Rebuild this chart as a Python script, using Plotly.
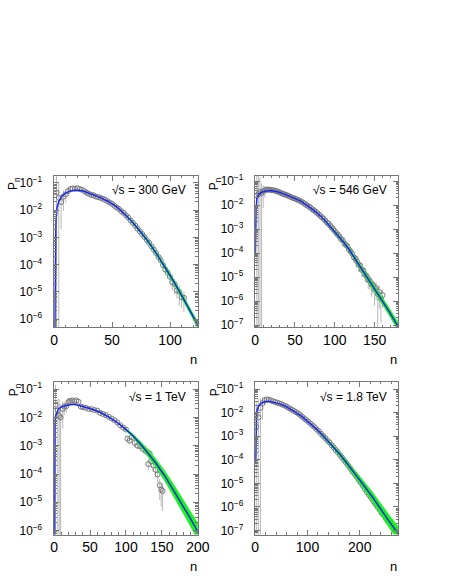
import plotly.graph_objects as go

# multiplicity distributions P_n, values read as log10(P_n)

# ---- sqrt(s) = 300 GeV ----
n_300 = [2, 4, 6, 8, 10, 12, 14, 16, 18, 20, 22, 24, 26, 28, 30, 32, 34, 36, 38, 40,
         42, 44, 46, 48, 50, 52, 54, 56, 58, 60, 62, 64, 66, 68, 70, 72, 74, 76, 78, 80,
         82, 84, 86, 88, 90, 92, 94, 96, 98, 100, 102, 104, 106, 108, 110, 112]
logp_300 = [-1.35, -1.55, -1.70, -1.50, -1.42, -1.30, -1.22, -1.20, -1.21, -1.19,
            -1.22, -1.25, -1.30, -1.36, -1.40, -1.44, -1.45, -1.50, -1.52, -1.55,
            -1.58, -1.62, -1.67, -1.72, -1.77, -1.84, -1.90, -1.96, -2.04, -2.10,
            -2.19, -2.27, -2.38, -2.47, -2.57, -2.68, -2.78, -2.88, -2.99, -3.10,
            -3.20, -3.33, -3.45, -3.58, -3.72, -3.84, -4.02, -4.18, -4.30, -4.45,
            -4.66, -4.72, -4.95, -5.00, -5.20, -5.22]
relerr_300 = [5, 2.5, 0.9, 0.7, 0.5, 0.35, 0.25, 0.2, 0.15, 0.12,
              0.1, 0.08, 0.08, 0.08, 0.08, 0.08, 0.08, 0.08, 0.08, 0.08,
              0.08, 0.08, 0.08, 0.08, 0.08, 0.08, 0.08, 0.08, 0.08, 0.08,
              0.08, 0.08, 0.08, 0.08, 0.08, 0.08, 0.08, 0.08, 0.08, 0.08,
              0.1, 0.15, 0.15, 0.15, 0.2, 0.25, 0.25, 0.3, 0.3, 0.4,
              0.5, 0.6, 0.5, 0.7, 0.6, 0.7]
fit_n_300 = [0.5, 1.0, 1.5, 2.5, 4, 6, 9, 13, 17, 21, 25, 30, 35, 40, 47, 54, 61, 68,
             75, 82, 89, 96, 103, 110, 117, 125]
fit_log_300 = [-7.0, -3.5, -2.5, -1.9, -1.68, -1.52, -1.40, -1.31, -1.275, -1.27, -1.30,
               -1.38, -1.45, -1.54, -1.69, -1.88, -2.15, -2.46, -2.82, -3.2, -3.64,
               -4.11, -4.61, -5.13, -5.67, -6.3]
band_300 = [0, 0, 0, 0, 0, 0, 0, 0, 0, 0, 0, 0, 0, 0, 0, 0, 0.03, 0.04, 0.05, 0.06,
            0.07, 0.08, 0.09, 0.1, 0.11, 0.12]

# ---- sqrt(s) = 546 GeV ----
n_546 = list(range(2, 162, 2))
logp_546 = [-1.60, -1.55, -1.45, -1.50, -1.42, -1.38, -1.36, -1.35, -1.36, -1.37,
            -1.38, -1.39, -1.41, -1.43, -1.46, -1.49, -1.52, -1.54, -1.57, -1.59,
            -1.62, -1.65, -1.68, -1.71, -1.73, -1.76, -1.79, -1.82, -1.86, -1.89,
            -1.94, -1.99, -2.03, -2.07, -2.12, -2.18, -2.22, -2.28, -2.33, -2.39,
            -2.46, -2.51, -2.57, -2.64, -2.72, -2.77, -2.85, -2.93, -3.00, -3.08,
            -3.17, -3.24, -3.31, -3.42, -3.46, -3.60, -3.66, -3.72, -3.86, -3.93,
            -4.03, -4.18, -4.22, -4.35, -4.49, -4.52, -4.70, -4.73, -4.90, -4.95,
            -5.10, -5.15, -5.30, -5.32, -5.50, -5.45, -5.70, -5.62, -5.90, -5.75]
relerr_546 = [8, 6, 3, 1.5, 0.8, 0.5, 0.3, 0.2, 0.2, 0.2,
              0.1, 0.1, 0.1, 0.1, 0.1, 0.06, 0.06, 0.06, 0.06, 0.06,
              0.06, 0.06, 0.06, 0.06, 0.06, 0.06, 0.06, 0.06, 0.06, 0.06,
              0.06, 0.06, 0.06, 0.06, 0.06, 0.06, 0.06, 0.06, 0.06, 0.06,
              0.06, 0.06, 0.06, 0.06, 0.06, 0.06, 0.06, 0.06, 0.06, 0.06,
              0.15, 0.2, 0.15, 0.3, 0.2, 0.3, 0.2, 0.3, 0.3, 0.3,
              0.3, 0.4, 0.35, 0.4, 0.5, 0.4, 0.5, 0.45, 0.5, 0.5,
              0.6, 0.6, 0.7, 0.6, 0.8, 0.7, 0.98, 0.8, 0.9, 0.7]
fit_n_546 = [0, 0.5, 1, 2, 4, 8, 13, 20, 28, 36, 46, 56, 66, 76, 86, 97, 107, 117, 127,
             137, 147, 157, 168, 180]
fit_log_546 = [-4.0, -2.8, -2.2, -1.74, -1.57, -1.46, -1.41, -1.39, -1.44, -1.53, -1.66,
               -1.81, -2.03, -2.28, -2.58, -2.98, -3.38, -3.80, -4.31, -4.82, -5.31,
               -5.82, -6.42, -7.08]
band_546 = [0, 0, 0, 0, 0, 0, 0, 0, 0, 0, 0, 0, 0, 0, 0.03, 0.04, 0.05, 0.06, 0.08,
            0.1, 0.12, 0.14, 0.16, 0.18]

# ---- sqrt(s) = 1 TeV ----
n_1000 = [2, 5, 7, 9, 12, 14, 17, 20, 22, 25, 28, 31, 34, 37, 40, 44, 48, 52, 56, 60,
          64, 68, 72, 76, 80, 84, 88, 92, 96, 100, 102, 105, 108, 112, 116, 120, 124,
          128, 131, 133, 135, 138, 141, 144, 147, 149, 151]
logp_1000 = [-1.55, -1.75, -1.95, -2.0, -1.7, -1.62, -1.6, -1.45, -1.42, -1.4,
             -1.42, -1.4, -1.45, -1.62, -1.64, -1.66, -1.7, -1.71, -1.74, -1.76,
             -1.84, -1.88, -1.92, -1.98, -2.04, -2.1, -2.18, -2.28, -2.36, -2.43,
             -2.75, -2.82, -2.7, -2.9, -3.0, -3.02, -3.12, -3.2, -3.65, -3.28,
             -3.55, -3.7, -3.85, -4.02, -4.4, -4.55, -4.6]
relerr_1000 = [4, 1.5, 3, 2, 0.8, 0.5, 0.4, 0.3, 0.15, 0.12,
               0.1, 0.1, 0.1, 0.1, 0.05, 0.05, 0.05, 0.05, 0.05, 0.05,
               0.05, 0.05, 0.05, 0.05, 0.05, 0.05, 0.05, 0.05, 0.05, 0.15,
               0.2, 0.25, 0.2, 0.3, 0.25, 0.3, 0.3, 0.3, 0.4, 0.35,
               0.4, 0.4, 0.45, 0.5, 0.7, 0.75, 0.8]
fit_n_1000 = [0.5, 0.8, 1.2, 2, 4, 6, 10, 15, 20, 28, 36, 45, 55, 64, 75, 87, 98, 109,
              120, 131, 142, 154, 165, 176, 188, 201]
fit_log_1000 = [-6.5, -3.0, -2.2, -1.95, -1.78, -1.70, -1.63, -1.59, -1.56, -1.54, -1.58,
                -1.65, -1.73, -1.82, -1.97, -2.17, -2.39, -2.63, -2.93, -3.26, -3.63,
                -4.07, -4.52, -5.0, -5.5, -6.08]
band_1000 = [0, 0, 0, 0, 0, 0, 0, 0, 0, 0, 0, 0, 0, 0, 0, 0, 0.03, 0.06, 0.09, 0.12,
             0.15, 0.18, 0.21, 0.24, 0.27, 0.3]

# ---- sqrt(s) = 1.8 TeV ----
n_1800 = list(range(2, 258, 4))
logp_1800 = [-2.6, -2.2, -1.8, -1.6, -1.48, -1.44, -1.45, -1.48, -1.52, -1.55,
             -1.58, -1.61, -1.64, -1.68, -1.72, -1.77, -1.82, -1.87, -1.93, -1.98,
             -2.04, -2.10, -2.18, -2.25, -2.32, -2.39, -2.47, -2.55, -2.62, -2.72,
             -2.79, -2.90, -2.99, -3.08, -3.18, -3.26, -3.38, -3.47, -3.58, -3.68,
             -3.79, -3.90, -4.02, -4.13, -4.25, -4.37, -4.50, -4.60, -4.72, -4.85,
             -4.97, -5.10, -5.25, -5.38, -5.50, -5.62, -5.75, -5.88, -6.00, -6.12,
             -6.25, -6.35, -6.48, -6.60]
relerr_1800 = [10, 5, 1.5, 0.8, 0.4, 0.2, 0.1, 0.1, 0.04, 0.04,
               0.04, 0.04, 0.04, 0.04, 0.04, 0.04, 0.04, 0.04, 0.04, 0.04,
               0.04, 0.04, 0.04, 0.04, 0.04, 0.04, 0.04, 0.04, 0.04, 0.04,
               0.04, 0.04, 0.04, 0.04, 0.04, 0.04, 0.04, 0.04, 0.04, 0.04,
               0.04, 0.04, 0.04, 0.04, 0.15, 0.15, 0.2, 0.2, 0.2, 0.25,
               0.2, 0.25, 0.3, 0.25, 0.3, 0.3, 0.35, 0.3, 0.35, 0.4,
               0.35, 0.4, 0.4, 0.4]
fit_n_1800 = [0.8, 1.2, 2.5, 4, 7, 12, 19.6, 28, 38, 47, 56, 70, 87, 102, 117, 132, 148,
              163, 178, 194, 209, 225, 240, 256, 275]
fit_log_1800 = [-4.16, -2.8, -2.06, -1.85, -1.71, -1.60, -1.53, -1.53, -1.57, -1.63,
                -1.71, -1.88, -2.13, -2.40, -2.69, -3.03, -3.42, -3.80, -4.22, -4.66,
                -5.12, -5.60, -6.10, -6.60, -7.18]
band_1800 = [0, 0, 0, 0, 0, 0, 0, 0, 0, 0, 0, 0, 0, 0, 0.03, 0.05, 0.07, 0.09, 0.12,
             0.15, 0.18, 0.21, 0.24, 0.27, 0.3]

labels = ["\u221as = 300 GeV", "\u221as = 546 GeV", "\u221as = 1 TeV", "\u221as = 1.8 TeV"]

W, H = 449, 581
FONT = "Liberation Sans, Arial, sans-serif"
AXCOL = "#777777"
GREEN = "#1ef01e"

# panel frames in pixels: left, right, top, bottom
frames = [(52, 201, 175, 329), (260.5, 409, 175, 329),
          (52, 201, 384, 539), (260.5, 409, 384, 539)]
xranges = [[0, 124], [0, 180], [0, 200], [0, 274]]
yranges = [[-6.31, -0.73], [-7.1, -0.77], [-6.14, -0.74], [-7.17, -0.69]]
xdticks = [(50, 10), (50, 10), (50, 10), (100, 20)]

panels = [
    (n_300, logp_300, relerr_300, fit_n_300, fit_log_300, band_300),
    (n_546, logp_546, relerr_546, fit_n_546, fit_log_546, band_546),
    (n_1000, logp_1000, relerr_1000, fit_n_1000, fit_log_1000, band_1000),
    (n_1800, logp_1800, relerr_1800, fit_n_1800, fit_log_1800, band_1800),
]

fig = go.Figure()
annotations = []
layout_axes = {}

for i, (n, logp, rel, fn, flog, band) in enumerate(panels):
    k = "" if i == 0 else str(i + 1)
    xa, ya = "x" + k, "y" + k
    l, r, t, b = frames[i]

    # data points with error bars
    p = [10 ** v for v in logp]
    err = [pv * rv for pv, rv in zip(p, rel)]
    fig.add_trace(go.Scatter(x=n, y=p, mode="markers",
                             marker=dict(symbol="circle-open", size=5, color="#7a7a7a",
                                         line=dict(width=1, color="#7a7a7a")),
                             error_y=dict(type="data", array=err, arrayminus=err,
                                          color="#b8b8b8", thickness=1, width=0),
                             xaxis=xa, yaxis=ya, showlegend=False))

    # green error band of the fit
    idx = [j for j, w in enumerate(band) if w > 0]
    bx = [fn[j] for j in idx]
    fig.add_trace(go.Scatter(x=bx, y=[10 ** (flog[j] - band[j]) for j in idx],
                             mode="lines", line=dict(width=0.5, color=GREEN),
                             xaxis=xa, yaxis=ya, showlegend=False, hoverinfo="skip"))
    fig.add_trace(go.Scatter(x=bx, y=[10 ** (flog[j] + band[j]) for j in idx],
                             mode="lines", line=dict(width=0.5, color=GREEN),
                             fill="tonexty", fillcolor=GREEN,
                             xaxis=xa, yaxis=ya, showlegend=False, hoverinfo="skip"))

    # fit curve
    fig.add_trace(go.Scatter(x=fn, y=[10 ** v for v in flog], mode="lines",
                             line=dict(color="rgb(25,40,235)", width=1.5),
                             xaxis=xa, yaxis=ya, showlegend=False))

    common = dict(showline=True, mirror="allticks", linecolor=AXCOL, linewidth=1,
                  ticks="inside", tickcolor=AXCOL, ticklen=5, tickwidth=1,
                  showgrid=False, zeroline=False)
    layout_axes["xaxis" + k] = dict(
        common, domain=[l / W, r / W], range=xranges[i], anchor=ya,
        tick0=0, dtick=xdticks[i][0],
        minor=dict(ticks="inside", ticklen=2.5, tickcolor=AXCOL, dtick=xdticks[i][1]),
        tickfont=dict(family=FONT, size=14, color="black"))
    layout_axes["yaxis" + k] = dict(
        common, type="log", domain=[(H - b) / H, (H - t) / H], range=yranges[i],
        anchor=xa, dtick=1, exponentformat="power", showexponent="all",
        minor=dict(ticks="inside", ticklen=2.5, tickcolor=AXCOL, dtick="D1"),
        ticklabelstandoff=9,
        tickfont=dict(family=FONT, size=9.5, color="black"))

    annotations.append(dict(text=labels[i], xref="paper", yref="paper",
                            x=(r - 10) / W, y=(H - (t + 15)) / H,
                            xanchor="right", yanchor="middle", showarrow=False,
                            font=dict(family=FONT, size=12, color="black")))
    annotations.append(dict(text="P<sub>n</sub>", xref="paper", yref="paper",
                            x=(l - 41) / W, y=(H - (t + 8)) / H, textangle=-90,
                            xanchor="center", yanchor="middle", showarrow=False,
                            font=dict(family=FONT, size=12, color="black")))
    annotations.append(dict(text="n", xref="paper", yref="paper",
                            x=(r - 5) / W, y=(H - (b + 32)) / H,
                            xanchor="center", yanchor="middle", showarrow=False,
                            font=dict(family=FONT, size=13, color="black")))

fig.update_layout(width=W, height=H, margin=dict(l=0, r=0, t=0, b=0),
                  paper_bgcolor="white", plot_bgcolor="white",
                  annotations=annotations, **layout_axes)

# the page body has a default 8px margin; drop it so the figure sits at the corner
fig.write_html("out.html", config={"displayModeBar": False},
               post_script="document.body.style.margin='0';")
